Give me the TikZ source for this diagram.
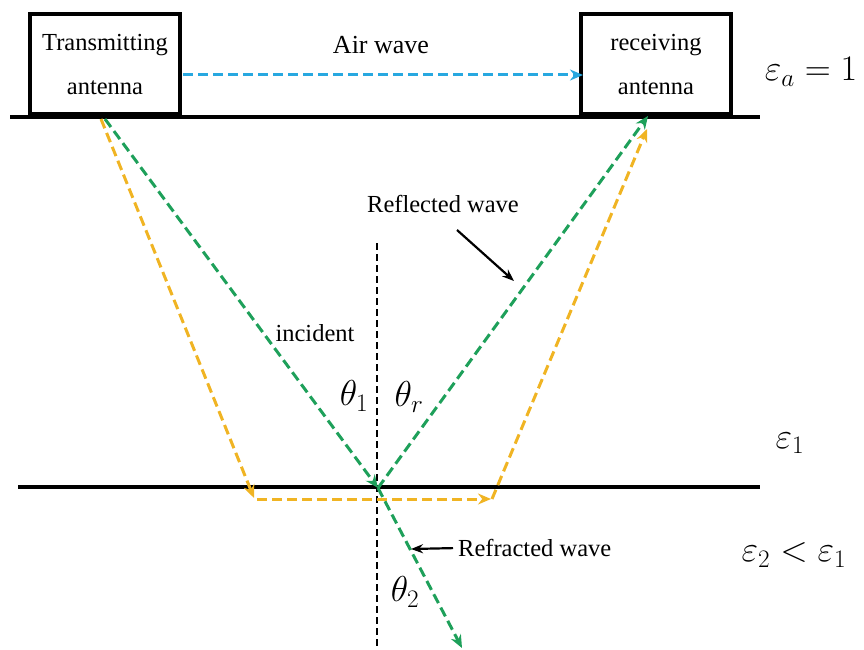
\RequirePackage{fix-cm}
\documentclass[tikz,border=0pt]{standalone}
\usepackage{fontspec}
\setmainfont{Liberation Serif}
\usetikzlibrary{arrows.meta}
\definecolor{wgreen}{RGB}{30,160,90}
\definecolor{worange}{RGB}{240,180,35}
\definecolor{wblue}{RGB}{40,168,224}
\tikzset{
  x=1pt,y=-1pt,
  ant/.style={draw=black,line width=3.2pt,minimum width=150pt,minimum height=100pt,inner sep=0pt},
  lbl/.style={font=\fontsize{24.5}{28}\selectfont,inner sep=0pt},
  mlbl/.style={font=\fontsize{36}{42}\selectfont,inner sep=0pt},
  ground/.style={line width=4.5pt},
  wave/.style={dash pattern=on 10pt off 5pt,line width=3pt,-{Stealth[length=13pt,width=11pt]}},
  normal/.style={dash pattern=on 7pt off 4pt,line width=2pt},
  pointer/.style={line width=2.2pt,-{Stealth[length=12pt,width=9pt]}}
}
\begin{document}
\begin{tikzpicture}
\useasboundingbox (0,0) rectangle (864,650);
% antennas
\node[ant] (tx) at (105,64) {};
\node[ant] (rx) at (656,64) {};
\node[lbl] (txt1) at (105,45) {Transmitting};
\node[lbl] (txt2) at (105,88) {antenna};
\node[lbl] (rxt1) at (656,45) {receiving};
\node[lbl] (rxt2) at (656,88) {antenna};
% ground lines
\coordinate (g1l) at (10,117);
\coordinate (g1r) at (760,117);
\coordinate (g2l) at (18,487);
\coordinate (g2r) at (760,487);
\draw[ground] (g1l) -- (g1r);
\draw[ground] (g2l) -- (g2r);
% normal
\coordinate (n1) at (377,243);
\coordinate (n2) at (377,650);
\draw[normal] (n1) -- (n2);
% air wave
\coordinate (aw1) at (183,75);
\coordinate (aw2) at (583,75);
\draw[wave,wblue] (aw1) -- (aw2);
\node[lbl,font=\fontsize{26}{30}\selectfont] (airlbl) at (381,45) {Air wave};
% green rays
\coordinate (gs) at (105,119);
\coordinate (gp) at (378,488);
\coordinate (ge) at (648,116);
\coordinate (gr) at (462,648);
\draw[wave,wgreen] (gs) -- (gp);
\draw[wave,wgreen] (gp) -- (ge);
\draw[wave,wgreen] (gp) -- (gr);
% orange rays
\coordinate (os) at (101,119);
\coordinate (o1) at (254,498);
\coordinate (o1b) at (257,499);
\coordinate (o2) at (491,499);
\coordinate (o2b) at (492,499);
\coordinate (oe) at (647,129);
\draw[wave,worange] (os) -- (o1);
\draw[wave,worange] (o1b) -- (o2);
\draw[wave,worange] (o2b) -- (oe);
% labels
\node[lbl] (refl) at (443,204) {Reflected wave};
\coordinate (rp1) at (457,230);
\coordinate (rp2) at (514,281);
\draw[pointer] (rp1) -- (rp2);
\node[lbl] (inc) at (315,333) {incident};
\node[lbl,anchor=west] (refr) at (458,548) {Refracted wave};
\coordinate (fp2) at (411,549);
\draw[pointer,shorten <=5pt] (refr.west) -- (fp2);
\node[mlbl] (th1) at (354,396) {$\theta_1$};
\node[mlbl] (thr) at (409,397) {$\theta_r$};
\node[mlbl] (th2) at (405,592) {$\theta_2$};
\node[mlbl] (ea) at (811,72) {$\varepsilon_a=1$};
\node[mlbl] (e1) at (790,443) {$\varepsilon_1$};
\node[mlbl] (e2) at (794,555) {$\varepsilon_2<\varepsilon_1$};
\end{tikzpicture}
\end{document}
